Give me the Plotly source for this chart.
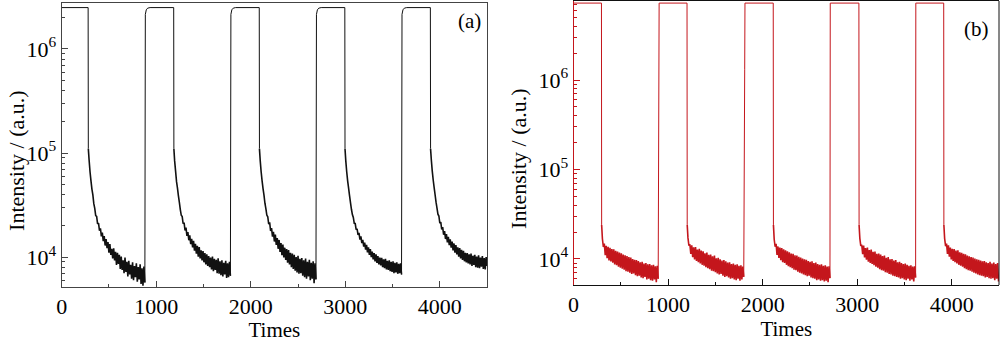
import plotly.graph_objects as go

# ---------------------------------------------------------------------------
# Switching records, intensity in kcounts; decays sampled every 10 "Times"
# after the excitation is switched off.
# ---------------------------------------------------------------------------
SAMPLE_DT = 10
T_END = 4500

# sample (a)
A_OFF = [280, 1185, 2090, 2995, 3900]   # excitation switched off
A_ON = [885, 1790, 2695, 3600]          # excitation switched back on
A_PLATEAU = 2500                        # level while excited
A_FOOT = 110                            # end of the fast drop
A_RISE_DT = [0, 10, 25, 50]
A_RISE = [[2150, 2380, 2470, 2500]] * 4

A_DECAY_1 = [86, 66, 54, 45, 39.5, 32.6, 29.3, 25.0, 24.6, 20.8, 21.2, 17.9, 18.9, 15.8,
             17.2, 14.2, 15.9, 12.9, 14.9, 12.2, 13.9, 11.0, 13.3, 10.5, 12.0, 9.7, 12.1,
             9.3, 11.2, 8.4, 11.0, 8.6, 10.5, 7.7, 10.1, 7.5, 9.3, 7.0, 9.9, 7.2, 9.0, 6.5,
             9.2, 6.8, 8.4, 6.2, 8.9, 6.0, 8.2, 6.4, 8.7, 5.8, 8.0, 6.1, 8.5, 5.5, 7.8, 5.3,
             8.1, 5.7]
A_DECAY_2 = [84, 67, 53, 46, 38.8, 33.5, 28.6, 25.2, 24.5, 20.9, 21.4, 18.0, 19.2, 16.0,
             17.4, 14.5, 16.2, 13.3, 15.0, 12.4, 14.3, 11.5, 13.4, 10.8, 12.8, 10.1, 12.5,
             9.7, 11.6, 9.3, 11.4, 8.9, 10.9, 8.5, 10.6, 8.2, 10.2, 8.0, 9.9, 7.6, 10.1, 7.3,
             9.6, 7.5, 9.4, 7.0, 9.7, 6.9, 9.1, 6.7, 9.3, 6.5, 8.8, 6.8, 9.2, 6.3, 8.7, 6.4,
             9.0, 6.6]
A_DECAY_3 = [85, 66, 54, 45.5, 39.3, 32.9, 29.2, 25.3, 24.4, 20.7, 21.5, 17.8, 19.0, 15.7,
             17.5, 14.1, 16.4, 13.1, 15.2, 12.0, 14.6, 11.2, 13.6, 10.4, 13.2, 9.9, 12.3, 9.4,
             11.9, 8.8, 11.7, 8.5, 11.0, 8.0, 10.8, 7.7, 10.5, 7.4, 10.0, 7.1, 10.3, 6.9,
             9.6, 7.0, 9.8, 6.6, 9.3, 6.4, 9.7, 6.2, 9.0, 6.5, 9.4, 6.0, 8.8, 6.2, 9.1, 5.6,
             8.7, 6.1]
A_DECAY_4 = [85, 66, 54, 46, 38.9, 33.3, 28.8, 25.6, 24.0, 21.1, 21.0, 18.3, 18.7, 16.3,
             17.1, 14.7, 15.8, 13.6, 14.6, 12.6, 13.8, 11.8, 13.1, 11.1, 12.4, 10.5, 11.9,
             10.0, 11.3, 9.5, 10.9, 9.1, 10.6, 8.8, 10.2, 8.5, 9.9, 8.3, 9.8, 8.0, 9.5, 7.8,
             9.6, 7.6, 9.2, 7.5, 9.3, 7.3, 9.0, 7.2, 9.1, 7.0, 8.8, 7.1, 8.9, 6.9, 8.6, 7.0,
             8.7, 6.8]
A_DECAY_5 = [86, 67, 55, 46.5, 39.7, 33.7, 29.5, 25.8, 24.8, 21.2, 21.7, 18.4, 19.4, 16.4,
             17.8, 14.9, 16.6, 13.8, 15.6, 13.0, 14.8, 12.3, 14.1, 11.6, 13.5, 11.0, 13.0,
             10.6, 12.4, 10.1, 12.2, 9.7, 11.7, 9.4, 11.5, 9.1, 11.0, 8.9, 10.9, 8.7, 10.6,
             8.5, 10.8, 8.2, 10.3, 8.4, 10.5, 8.0, 10.1, 7.9, 10.4, 7.8, 9.9, 8.1, 10.2, 7.7,
             9.8, 7.6, 10.0, 8.2]

# sample (b)
B_OFF = [295, 1200, 2112, 3018, 3915]
B_ON = [905, 1810, 2715, 3620]
B_PLATEAU = 7240
B_FOOT = 24
B_RISE_DT = [0, 3]
B_RISE = [[7240, 7240], [1300, 7240], [7240, 7240], [7240, 7240]]

B_DECAY_1 = [16.8, 13.6, 14.9, 11.0, 14.0, 10.2, 13.7, 9.6, 13.3, 9.4, 12.9, 9.1, 12.8, 8.7,
             12.3, 8.5, 12.1, 8.2, 11.8, 8.0, 11.6, 7.8, 11.2, 7.6, 11.0, 7.3, 10.8, 7.2,
             10.5, 7.0, 10.4, 6.8, 10.0, 6.9, 9.8, 6.6, 9.7, 6.4, 9.5, 6.5, 9.2, 6.2, 9.3,
             6.1, 8.9, 6.3, 9.0, 5.9, 8.7, 6.0, 8.8, 5.8, 8.5, 5.7, 8.6, 5.9, 8.3, 5.5, 8.4,
             6.0]
B_DECAY_2 = [17.2, 14.1, 14.6, 11.4, 14.2, 10.5, 13.5, 9.9, 13.6, 9.5, 12.7, 9.2, 13.0, 8.9,
             12.4, 8.6, 12.2, 8.4, 11.6, 8.1, 11.8, 7.9, 11.1, 7.7, 11.2, 7.4, 10.7, 7.3,
             10.9, 7.1, 10.2, 6.9, 10.3, 6.7, 9.9, 6.8, 9.6, 6.5, 9.7, 6.3, 9.4, 6.4, 9.1,
             6.2, 9.2, 6.0, 8.8, 6.1, 8.9, 5.9, 8.6, 5.8, 8.7, 6.0, 8.4, 5.7, 8.5, 5.9, 8.2,
             6.3]
B_DECAY_3 = [16.6, 13.7, 14.8, 11.1, 13.8, 10.3, 13.4, 9.7, 13.2, 9.2, 12.8, 9.0, 12.5, 8.6,
             12.2, 8.3, 11.9, 8.1, 11.5, 7.9, 11.4, 7.6, 11.0, 7.5, 10.9, 7.2, 10.6, 7.0,
             10.4, 6.9, 10.1, 6.7, 9.9, 6.6, 9.8, 6.4, 9.5, 6.5, 9.3, 6.2, 9.4, 6.1, 9.0,
             6.0, 9.1, 5.8, 8.8, 5.9, 8.6, 5.7, 8.7, 5.8, 8.4, 5.6, 8.5, 5.7, 8.2, 5.5, 8.3,
             6.1]
B_DECAY_4 = [17.0, 14.0, 14.4, 11.3, 14.1, 10.4, 13.2, 9.8, 13.4, 9.3, 12.6, 9.0, 12.7, 8.8,
             12.0, 8.5, 12.1, 8.2, 11.4, 8.0, 11.5, 7.7, 11.2, 7.5, 10.8, 7.4, 10.9, 7.1,
             10.3, 7.0, 10.5, 6.8, 9.9, 6.7, 10.0, 6.5, 9.6, 6.4, 9.7, 6.3, 9.2, 6.2, 9.3,
             6.0, 9.0, 6.1, 8.8, 5.9, 8.9, 5.8, 8.6, 6.0, 8.4, 5.7, 8.5, 5.9, 8.2, 5.6, 8.3,
             6.2]
B_DECAY_5 = [16.9, 13.9, 14.9, 11.4, 14.2, 10.6, 13.4, 9.9, 13.0, 9.5, 12.9, 9.2, 12.4, 8.9,
             12.5, 8.6, 11.9, 8.4, 11.7, 8.2, 11.4, 7.9, 11.3, 7.7, 10.9, 7.5, 10.7, 7.4,
             10.5, 7.2, 10.4, 7.0, 10.1, 6.9, 9.9, 6.7, 9.8, 6.6, 9.6, 6.5, 9.4, 6.4, 9.5,
             6.2, 9.2, 6.3, 9.0, 6.1, 9.3, 6.0, 8.9, 6.1, 9.1, 5.8, 8.8, 6.0, 9.0, 5.6]

X_TICKS = [0, 1000, 2000, 3000, 4000]
X_MINOR = [500, 1500, 2500, 3500]
Y_TICKS = [1e4, 1e5, 1e6]
Y_TICKTEXT = ["10<sup>4</sup>", "10<sup>5</sup>", "10<sup>6</sup>"]
Y_TITLE = "Intensity / (a.u.)"
X_TITLE = "Times"

FONT = "Liberation Serif"


def build(off, on, plateau, foot, rise_dt, rises, decays):
    """Split one switching record into switching edges/plateaus and noisy decays."""
    ex, ey = [0], [plateau]
    dx, dy = [], []
    for k, t_off in enumerate(off):
        ex += [t_off, t_off + 2]
        ey += [plateau, foot]
        sx, sy = [t_off + 2], [foot]
        t_next = on[k] if k < len(on) else T_END + 1
        for i, v in enumerate(decays[k]):
            t = t_off + SAMPLE_DT * (i + 1)
            if t >= t_next:
                break
            sx.append(t)
            sy.append(v)
        dx += sx + [None]
        dy += sy + [None]
        if k < len(on):
            ex += [None, sx[-1]]
            ey += [None, sy[-1]]
            for dt, v in zip(rise_dt, rises[k]):
                ex.append(on[k] + dt)
                ey.append(v)
    scale = lambda seq: [None if v is None else v * 1000 for v in seq]
    return (ex, scale(ey)), (dx, scale(dy))


edges_a, decay_a = build(A_OFF, A_ON, A_PLATEAU, A_FOOT, A_RISE_DT, A_RISE,
                         [A_DECAY_1, A_DECAY_2, A_DECAY_3, A_DECAY_4, A_DECAY_5])
edges_b, decay_b = build(B_OFF, B_ON, B_PLATEAU, B_FOOT, B_RISE_DT, B_RISE,
                         [B_DECAY_1, B_DECAY_2, B_DECAY_3, B_DECAY_4, B_DECAY_5])


def minor_log(lo, hi):
    return [m * 10 ** n for n in range(3, 7) for m in range(2, 10)
            if lo <= m * 10 ** n <= hi]


W, H = 1000, 342
fig = go.Figure()
for (xy, color, width, xa, ya) in [
        (edges_a, "#111111", 1.0, "x", "y"), (decay_a, "#111111", 1.6, "x", "y"),
        (edges_b, "#c4161c", 1.0, "x2", "y2"), (decay_b, "#c4161c", 1.6, "x2", "y2")]:
    fig.add_trace(go.Scatter(x=xy[0], y=xy[1], mode="lines", connectgaps=False,
                             line=dict(color=color, width=width, simplify=False),
                             xaxis=xa, yaxis=ya, showlegend=False, hoverinfo="skip"))


def xaxis_cfg(domain, anchor, color):
    return dict(domain=domain, anchor=anchor, range=[0, T_END], tickmode="array",
                tickvals=X_TICKS, ticks="inside", ticklen=6, tickwidth=1, tickcolor=color,
                showline=True, linecolor=color, linewidth=1, mirror=True,
                showgrid=False, zeroline=False,
                minor=dict(tickvals=X_MINOR, ticks="inside", ticklen=3, tickcolor=color),
                tickfont=dict(family=FONT, size=22, color="#000"),
                title=dict(text=X_TITLE, font=dict(family=FONT, size=21, color="#000"),
                           standoff=4))


def yaxis_cfg(domain, anchor, rng, color, mirror):
    lo, hi = 10 ** rng[0], 10 ** rng[1]
    return dict(domain=domain, anchor=anchor, type="log", range=rng, tickmode="array",
                tickvals=Y_TICKS, ticktext=Y_TICKTEXT, ticks="inside", ticklen=6,
                tickwidth=1, tickcolor=color, showline=True, linecolor=color, linewidth=1,
                mirror=mirror, showgrid=False, zeroline=False,
                minor=dict(tickvals=minor_log(lo, hi), ticks="inside", ticklen=3,
                           tickcolor=color),
                tickfont=dict(family=FONT, size=22, color="#000"))


def label(text, x, y, angle=0, size=21):
    return dict(text=text, x=x / W, y=1 - y / H, xref="paper", yref="paper",
                xanchor="center", yanchor="middle", showarrow=False, textangle=angle,
                font=dict(family=FONT, size=size, color="#000"))


fig.update_layout(
    width=W, height=H,
    margin=dict(l=0, r=0, t=0, b=0),
    font=dict(family=FONT, color="#000"),
    paper_bgcolor="white", plot_bgcolor="white",
    xaxis=xaxis_cfg([56 / W, 484 / W], "y", "#444444"),
    yaxis=yaxis_cfg([1 - 287 / H, 1 - 3 / H], "x", [3.712, 6.442], "#444444", True),
    xaxis2=xaxis_cfg([571 / W, 999 / W], "y2", "#111111"),
    yaxis2=yaxis_cfg([1 - 285 / H, 1 - 1 / H], "x2", [3.709, 6.883], "#c4161c", False),
    shapes=[dict(type="line", xref="x2 domain", yref="y2 domain", x0=1, x1=1, y0=0, y1=1,
                 line=dict(color="#111111", width=1))],
    annotations=[
        label(Y_TITLE, 10, 160, -90, 22),
        label(Y_TITLE, 515, 158, -90, 22),
        label("(a)", 466, 21),
        label("(b)", 976, 29),
    ],
)

fig.write_html("out.html")
